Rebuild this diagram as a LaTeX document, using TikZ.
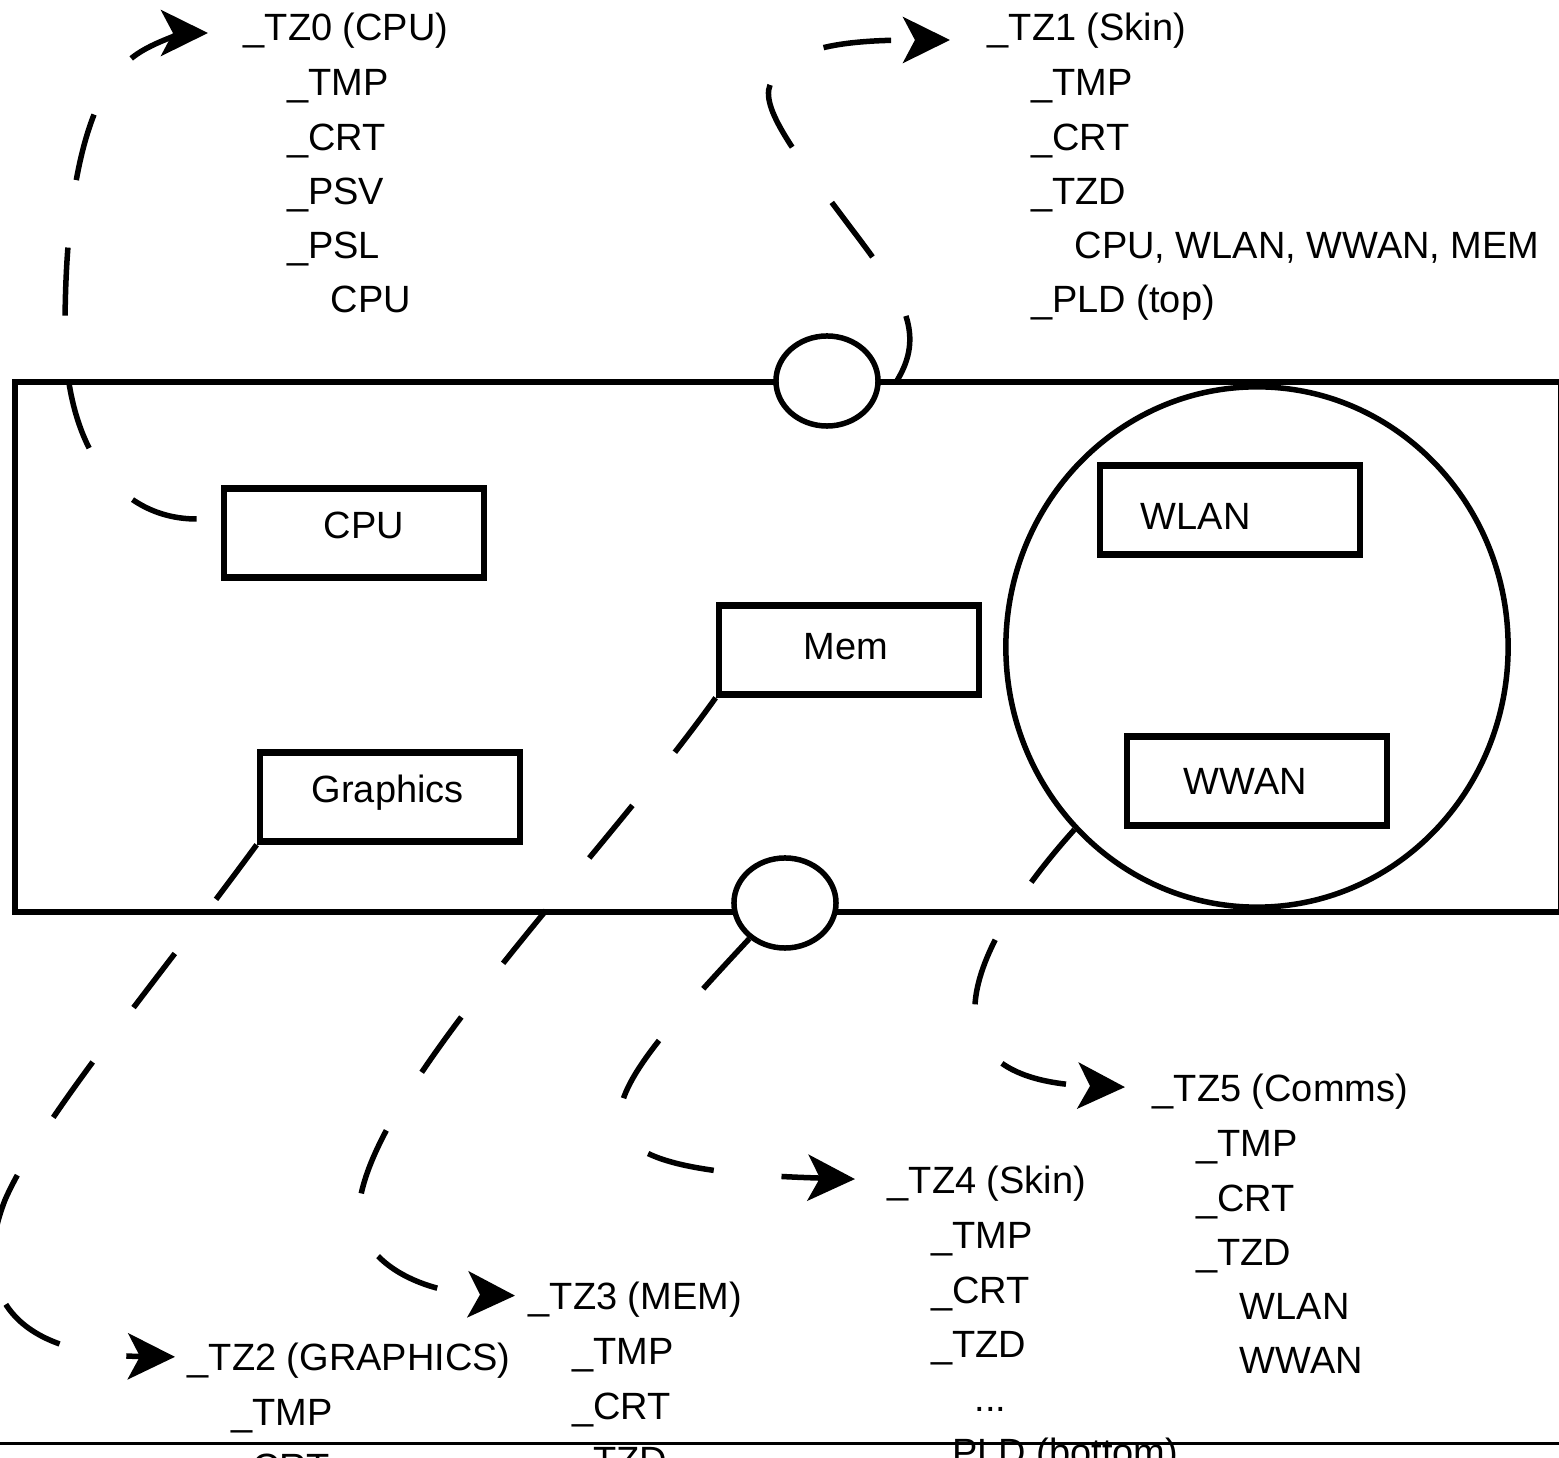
\documentclass[tikz,border=0pt]{standalone}
\usepackage{fontspec}
\setmainfont{Liberation Sans}
\usetikzlibrary{arrows.meta, shapes.geometric}
\newcommand{\ind}{\hspace*{0.435cm}}
\newcommand{\txtsize}{\fontsize{10.8pt}{15.42pt}\selectfont}

\begin{document}
\begin{tikzpicture}[x=0.01cm, y=-0.01cm,
    box/.style={draw, line width=0.065cm, fill=white, minimum width=2.6cm,
                minimum height=0.89cm, inner sep=0pt},
    port/.style={draw, ellipse, line width=0.055cm, fill=white,
                 minimum width=1.02cm, minimum height=0.9cm, inner sep=0pt},
    lbl/.style={anchor=base west, inner sep=0pt, font=\txtsize},
    ttl/.style={anchor=base west, inner sep=0pt, font=\txtsize,
                text height=0.28cm, text depth=0pt},
    lst/.style={anchor=north west, inner sep=0pt, align=left, font=\txtsize},
    flow/.style={line width=0.055cm, dash pattern=on 0.68cm off 0.68cm,
                 -{Stealth[length=0.47cm, width=0.46cm, inset=0.12cm]}}]
  \useasboundingbox (0,0) rectangle (1559,1458);
  \clip (0,0) rectangle (1559,1458);

  % platform outline
  \draw[line width=0.055cm] (15,382) rectangle (1561,912);
  \node[draw, ellipse, line width=0.055cm, minimum width=5.02cm,
        minimum height=5.2cm, inner sep=0pt] (comms) at (1257,647) {};
  \node[port] (topport) at (827,381) {};
  \node[port] (botport) at (785,903) {};

  % devices
  \node[box] (cpu) at (354,533) {};
  \node[lbl] (cpulabel) at (323,539) {CPU};
  \node[box] (mem) at (849,650) {};
  \node[lbl] (memlabel) at (803,660) {Mem};
  \node[box] (graphics) at (390,797) {};
  \node[lbl] (graphicslabel) at (311,803) {Graphics};
  \node[box] (wlan) at (1230,510) {};
  \node[lbl] (wlanlabel) at (1140,530) {WLAN};
  \node[box] (wwan) at (1257,781) {};
  \node[lbl] (wwanlabel) at (1183,795) {WWAN};

  % thermal zones
  \node[ttl] (tz0) at (243,41) {\_TZ0 (CPU)};
  \node[lst] (tz0list) at ([shift={(43.5,28)}]tz0.base west)
    {\_TMP\\\_CRT\\\_PSV\\\_PSL\\\ind CPU};
  \node[ttl] (tz1) at (987,41) {\_TZ1 (Skin)};
  \node[lst] (tz1list) at ([shift={(43.5,28)}]tz1.base west)
    {\_TMP\\\_CRT\\\_TZD\\\ind CPU, WLAN, WWAN, MEM\\\_PLD (top)};
  \node[ttl] (tz2) at (187,1371) {\_TZ2 (GRAPHICS)};
  \node[lst] (tz2list) at ([shift={(43.5,28)}]tz2.base west)
    {\_TMP\\\_CRT};
  \node[ttl] (tz3) at (528,1310) {\_TZ3 (MEM)};
  \node[lst] (tz3list) at ([shift={(43.5,28)}]tz3.base west)
    {\_TMP\\\_CRT\\\_TZD};
  \node[ttl] (tz4) at (887,1194) {\_TZ4 (Skin)};
  \node[lst] (tz4list) at ([shift={(43.5,28)}]tz4.base west)
    {\_TMP\\\_CRT\\\_TZD\\\ind ...\\\_PLD (bottom)};
  \node[ttl] (tz5) at (1152,1102) {\_TZ5 (Comms)};
  \node[lst] (tz5list) at ([shift={(43.5,28)}]tz5.base west)
    {\_TMP\\\_CRT\\\_TZD\\\ind WLAN\\\ind WWAN};

  % zone links
  \draw[flow, shorten <=0.24cm, shorten >=0.35cm] ([yshift=0.14cm]cpu.west)
    .. controls (120,519) and (65,450) .. (65,330)
    .. controls (65,180) and (90,90) .. (133,57)
    .. controls (155,40) and (190,33) .. ([yshift=-0.06cm]tz0.west);
  \draw[flow, shorten >=0.37cm] ([xshift=0.16cm]topport.east)
    .. controls (925,335) and (905,300) .. (860,240)
    .. controls (800,160) and (760,110) .. (770,85)
    .. controls (785,45) and (850,40) .. ([yshift=-0.13cm]tz1.west);
  \draw[flow, shorten >=0.12cm] (graphics.south west)
    .. controls (150,990) and (40,1120) .. (5,1200)
    .. controls (-30,1290) and (10,1355) .. (tz2.west);
  \draw[flow, shorten >=0.13cm] (mem.south west)
    .. controls (600,860) and (380,1080) .. (360,1200)
    .. controls (350,1260) and (420,1293) .. (tz3.west);
  \draw[flow, shorten >=0.32cm] (botport.225)
    .. controls (590,1110) and (540,1170) .. (tz4.west);
  \draw[flow, shorten >=0.27cm] (comms.225)
    .. controls (975,940) and (905,1080) .. (tz5.west);

  \draw[line width=0.03cm] (0,1444) -- (1559,1444);
\end{tikzpicture}
\end{document}
